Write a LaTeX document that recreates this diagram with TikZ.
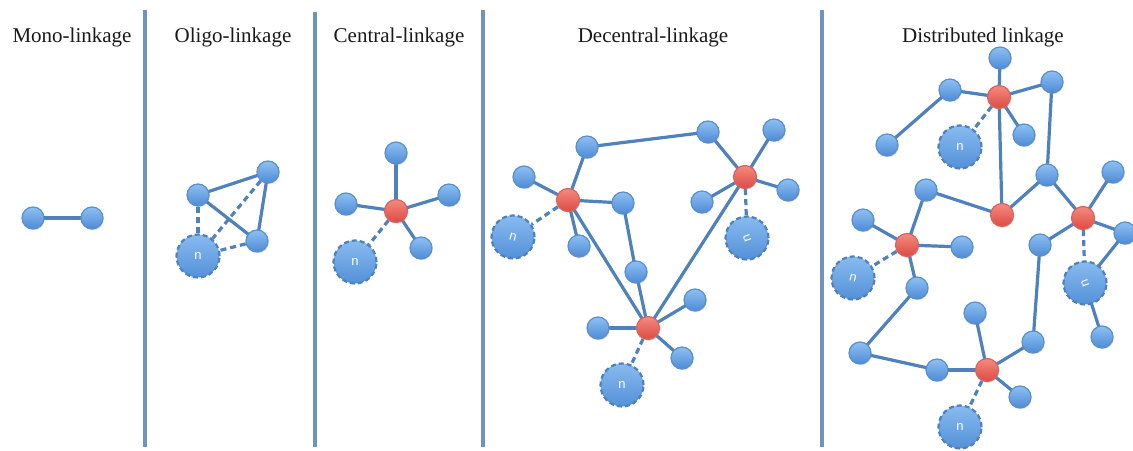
\documentclass[tikz,border=0pt]{standalone}
\usepackage{fontspec}
\setmainfont{Liberation Serif}
\setsansfont{Liberation Sans}
\usetikzlibrary{shadows}
\definecolor{edgeblue}{HTML}{4F81BD}
\definecolor{divblue}{HTML}{6F93C0}
\definecolor{nodetop}{HTML}{8EC0F2}
\definecolor{nodebot}{HTML}{4D8BD6}
\definecolor{nodeline}{HTML}{5B8FCC}
\definecolor{redtop}{HTML}{F58A80}
\definecolor{redbot}{HTML}{DC4A42}
\definecolor{redline}{HTML}{D5655E}
\pgfdeclarelayer{bg}
\pgfsetlayers{bg,main}
\tikzset{
  bn/.style={circle, minimum size=22pt, inner sep=0pt, draw=nodeline, line width=1.2pt,
    top color=nodetop, bottom color=nodebot,
    drop shadow={opacity=0.25, shadow xshift=0.8pt, shadow yshift=-1.2pt}},
  rn/.style={circle, minimum size=23pt, inner sep=0pt, draw=redline, line width=1.2pt,
    top color=redtop, bottom color=redbot,
    drop shadow={opacity=0.25, shadow xshift=0.8pt, shadow yshift=-1.2pt}},
  nn/.style={circle, minimum size=43pt, inner sep=0pt, draw=edgeblue, line width=2.2pt,
    dash pattern=on 5pt off 3pt, top color=nodetop!90!nodebot, bottom color=nodebot!90!nodetop,
    text=white, font=\sffamily\fontsize{13}{13}\selectfont},
  link/.style={draw=edgeblue, line width=3.2pt},
  dlink/.style={draw=edgeblue, line width=3.2pt, dash pattern=on 6pt off 4pt},
  divider/.style={draw=divblue, line width=3.2pt},
  ttl/.style={anchor=base, font=\fontsize{21}{25}\selectfont, text=black!90, inner sep=0pt}
}
\begin{document}
\begin{tikzpicture}[x=1pt,y=-1pt]
\useasboundingbox (0,0) rectangle (1133,450);

% dividers
\coordinate (v1t) at (145,10); \coordinate (v1b) at (145,447);
\coordinate (v2t) at (315,12); \coordinate (v2b) at (315,447);
\coordinate (v3t) at (483,10); \coordinate (v3b) at (483,447);
\coordinate (v4t) at (822,10); \coordinate (v4b) at (822,447);
\draw[divider] (v1t) -- (v1b);
\draw[divider] (v2t) -- (v2b);
\draw[divider] (v3t) -- (v3b);
\draw[divider] (v4t) -- (v4b);

% titles
\node[ttl] (t1) at (72,42) {Mono-linkage};
\node[ttl] (t2) at (233,42) {Oligo-linkage};
\node[ttl] (t3) at (399,42) {Central-linkage};
\node[ttl] (t4) at (653,42) {Decentral-linkage};
\node[ttl] (t5) at (983,42) {Distributed linkage};

% ---------- Mono
\node[bn] (m1) at (33,218) {};
\node[bn] (m2) at (92,218) {};

% ---------- Oligo
\node[bn] (oa) at (198,195) {};
\node[bn] (ob) at (268,172) {};
\node[bn] (oc) at (257,241) {};
\node[nn] (on) at (198,256) {n};

% ---------- Central
\node[rn] (cr) at (396,211) {};
\node[bn] (ct) at (396,153) {};
\node[bn] (cl) at (346,204) {};
\node[bn] (crt) at (449,195) {};
\node[bn] (cbr) at (421,248) {};
\node[nn] (cn) at (355,262) {n};

% ---------- Decentral
\node[bn] (dt1) at (587,147) {};
\node[bn] (dt2) at (708,132) {};
\node[rn] (dr1) at (568,200) {};
\node[rn] (dr2) at (745,177) {};
\node[rn] (dr3) at (648,328) {};
\node[bn] (dl1) at (524,177) {};
\node[nn] (dn1) at (513,237) {\rotatebox{-15}{n}};
\node[bn] (db1) at (579,246) {};
\node[bn] (drt1) at (623,203) {};
\node[bn] (dm) at (636,272) {};
\node[nn] (dn2) at (747,238) {\rotatebox{110}{n}};
\node[bn] (d2a) at (774,130) {};
\node[bn] (d2b) at (788,190) {};
\node[bn] (d2c) at (702,202) {};
\node[bn] (d3a) at (598,328) {};
\node[bn] (d3b) at (695,300) {};
\node[bn] (d3c) at (682,358) {};
\node[nn] (dn3) at (622,385) {n};

% ---------- Distributed
\node[bn] (s1) at (1000,58) {};
\node[rn] (ra) at (999,97) {};
\node[bn] (s2) at (950,90) {};
\node[bn] (s3) at (887,145) {};
\node[bn] (s4) at (1052,82) {};
\node[nn] (na) at (960,147) {n};
\node[bn] (s5) at (1024,135) {};
\node[rn] (rb) at (1002,215) {};
\node[bn] (s6) at (1047,175) {};
\node[rn] (rc) at (1083,218) {};
\node[bn] (s7) at (1113,172) {};
\node[bn] (s8) at (1125,233) {};
\node[bn] (s9) at (1040,245) {};
\node[nn] (nc) at (1085,283) {\rotatebox{110}{n}};
\node[bn] (s10) at (1102,337) {};
\node[bn] (s11) at (926,190) {};
\node[rn] (rd) at (907,245) {};
\node[bn] (s12) at (863,220) {};
\node[bn] (s13) at (962,247) {};
\node[nn] (nd) at (853,278) {\rotatebox{-15}{n}};
\node[bn] (s14) at (917,288) {};
\node[bn] (s15) at (860,353) {};
\node[bn] (s16) at (937,370) {};
\node[rn] (re) at (987,370) {};
\node[bn] (s17) at (975,313) {};
\node[bn] (s18) at (1033,342) {};
\node[bn] (s19) at (1020,397) {};
\node[nn] (ne) at (960,427) {n};

\begin{pgfonlayer}{bg}
\fill[white] (0,0) rectangle (1133,450);
% mono
\draw[link] (m1.center) -- (m2.center);
% oligo
\draw[link] (oa.center) -- (ob.center);
\draw[link] (oa.center) -- (oc.center);
\draw[link] (ob.center) -- (oc.center);
\draw[dlink] (oa) -- (on);
\draw[dlink] (ob) -- (on);
\draw[dlink] (oc) -- (on);
% central
\draw[link] (cr.center) -- (ct.center);
\draw[link] (cr.center) -- (cl.center);
\draw[link] (cr.center) -- (crt.center);
\draw[link] (cr.center) -- (cbr.center);
\draw[dlink] (cr) -- (cn);
% decentral
\draw[link] (dt1.center) -- (dt2.center);
\draw[link] (dt1.center) -- (dr1.center);
\draw[link] (dl1.center) -- (dr1.center);
\draw[dlink] (dr1) -- (dn1);
\draw[link] (dr1.center) -- (db1.center);
\draw[link] (dr1.center) -- (drt1.center);
\draw[link] (drt1.center) -- (dm.center);
\draw[link] (dm.center) -- (dr3.center);
\draw[link] (dr1.center) -- (dr3.center);
\draw[link] (dr2.center) -- (dr3.center);
\draw[link] (dt2.center) -- (dr2.center);
\draw[link] (dr2.center) -- (d2a.center);
\draw[link] (dr2.center) -- (d2b.center);
\draw[link] (dr2.center) -- (d2c.center);
\draw[dlink] (dr2) -- (dn2);
\draw[link] (dr3.center) -- (d3a.center);
\draw[link] (dr3.center) -- (d3b.center);
\draw[link] (dr3.center) -- (d3c.center);
\draw[dlink] (dr3) -- (dn3);
% distributed
\draw[link] (s1.center) -- (ra.center);
\draw[link] (s2.center) -- (ra.center);
\draw[link] (s3.center) -- (s2.center);
\draw[link] (ra.center) -- (s4.center);
\draw[dlink] (ra) -- (na);
\draw[link] (ra.center) -- (s5.center);
\draw[link] (ra.center) -- (rb.center);
\draw[link] (s4.center) -- (s6.center);
\draw[link] (s6.center) -- (rb.center);
\draw[link] (s6.center) -- (rc.center);
\draw[link] (rc.center) -- (s7.center);
\draw[link] (rc.center) -- (s8.center);
\draw[link] (rc.center) -- (s9.center);
\draw[dlink] (rc) -- (nc);
\draw[link] (s8.center) -- (nc.center);
\draw[link] (nc.center) -- (s10.center);
\draw[link] (rb.center) -- (s11.center);
\draw[link] (s11.center) -- (rd.center);
\draw[link] (s12.center) -- (rd.center);
\draw[link] (rd.center) -- (s13.center);
\draw[dlink] (rd) -- (nd);
\draw[link] (rd.center) -- (s14.center);
\draw[link] (s14.center) -- (s15.center);
\draw[link] (s15.center) -- (s16.center);
\draw[link] (s16.center) -- (re.center);
\draw[link] (re.center) -- (s17.center);
\draw[link] (re.center) -- (s18.center);
\draw[link] (re.center) -- (s19.center);
\draw[dlink] (re) -- (ne);
\draw[link] (s18.center) -- (s9.center);
\end{pgfonlayer}
\end{tikzpicture}
\end{document}
